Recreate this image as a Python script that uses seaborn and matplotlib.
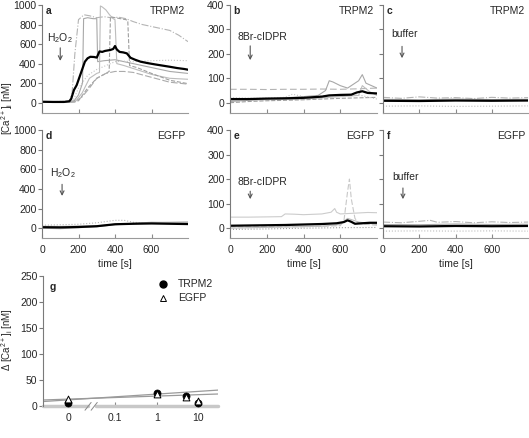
import numpy as np
import pandas as pd
import matplotlib
matplotlib.use("Agg")
import matplotlib.pyplot as plt
import seaborn as sns
from matplotlib.lines import Line2D

# ---------------- data ----------------
# Panel a (TRPM2, H2O2)
A_MEAN_T = [0, 60, 120, 150, 160, 175, 190, 205, 220, 235, 250, 265, 285, 300, 315, 330, 345, 360, 375, 390, 400, 410, 425, 445, 465, 485, 510, 540, 580, 620, 660, 700, 740, 780, 800]
A_MEAN_V = [10, 8, 8, 15, 40, 130, 180, 260, 340, 420, 455, 470, 468, 462, 525, 520, 530, 535, 540, 550, 580, 545, 520, 515, 505, 460, 440, 420, 405, 392, 380, 368, 355, 345, 338]
A_G1_T = [0, 150, 165, 180, 200, 230, 260, 300, 340, 380, 420, 460, 500, 550, 600, 650, 700, 750, 800]
A_G1_V = [10, 10, 100, 500, 850, 900, 890, 870, 880, 870, 875, 860, 830, 800, 780, 760, 740, 690, 625]
A_G2_T = [0, 170, 200, 222, 228, 250, 280, 300, 305, 340, 400, 450, 500, 600, 700, 800]
A_G2_V = [5, 5, 80, 200, 860, 870, 860, 860, 420, 430, 440, 420, 400, 360, 320, 300]
A_G3_T = [0, 180, 220, 260, 300, 315, 320, 330, 350, 370, 390, 400, 410, 450, 500, 600, 700, 800]
A_G3_V = [5, 5, 100, 250, 300, 310, 990, 980, 950, 900, 860, 850, 400, 380, 350, 290, 250, 240]
A_G4_T = [0, 200, 250, 300, 350, 368, 375, 400, 430, 460, 470, 480, 520, 600, 700, 800]
A_G4_V = [5, 20, 150, 250, 300, 320, 880, 870, 860, 850, 840, 380, 360, 300, 230, 195]
A_G5_T = [0, 170, 200, 250, 300, 350, 400, 450, 500, 600, 700, 800]
A_G5_V = [5, 20, 150, 280, 340, 380, 420, 425, 420, 430, 435, 430]
A_G6_T = [0, 180, 220, 260, 300, 350, 400, 450, 500, 600, 700, 800]
A_G6_V = [5, 10, 60, 150, 250, 300, 320, 320, 310, 260, 210, 190]

# Panel b (TRPM2, 8Br-cIDPR)
B_MEAN_T = [0, 100, 200, 300, 400, 500, 540, 600, 660, 690, 720, 750, 800]
B_MEAN_V = [15, 15, 17, 18, 20, 25, 30, 32, 33, 42, 47, 40, 38]
B_G1_T = [0, 100, 200, 300, 400, 500, 600, 700, 800]
B_G1_V = [55, 55, 54, 55, 55, 56, 55, 57, 60]
B_G2_T = [0, 200, 300, 400, 480, 520, 540, 560, 600, 640, 700, 720, 740, 800]
B_G2_V = [5, 15, 20, 25, 30, 50, 90, 85, 70, 60, 90, 115, 80, 60]
B_G3_T = [0, 200, 400, 600, 700, 720, 760, 800]
B_G3_V = [10, 12, 15, 25, 30, 70, 45, 30]
B_G4_T = [0, 100, 200, 300, 400, 500, 600, 700, 800]
B_G4_V = [0, 5, 8, 10, 12, 15, 18, 20, 22]
B_G5_T = [0, 150, 300, 340, 400, 500, 600, 700, 800]
B_G5_V = [20, 18, 22, 35, 25, 28, 30, 32, 15]

# Panel c (TRPM2, buffer)
C_MEAN_T = [0, 200, 400, 600, 800]
C_MEAN_V = [8, 7, 9, 8, 9]
C_G1_T = [0, 100, 200, 300, 400, 500, 600, 700, 800]
C_G1_V = [22, 18, 24, 19, 21, 17, 22, 19, 21]
C_G2_T = [0, 200, 400, 600, 800]
C_G2_V = [14, 12, 15, 13, 14]
C_G3_T = [0, 200, 400, 600, 800]
C_G3_V = [-14, -13, -15, -14, -13]

# Panel d (EGFP, H2O2)
D_MEAN_T = [0, 100, 200, 300, 350, 400, 500, 600, 700, 800]
D_MEAN_V = [10, 8, 12, 20, 30, 40, 45, 48, 45, 42]
D_G1_T = [0, 100, 200, 300, 400, 450, 500, 600, 700, 800]
D_G1_V = [30, 35, 40, 55, 80, 80, 60, 50, 55, 50]
D_G2_T = [0, 100, 200, 300, 400, 500, 600, 700, 800]
D_G2_V = [0, -5, 5, 15, 35, 50, 60, 58, 62]
D_G3_T = [0, 100, 200, 300, 400, 500, 600, 700, 800]
D_G3_V = [20, 18, 22, 25, 40, 45, 55, 60, 62]

# Panel e (EGFP, 8Br-cIDPR)
E_MEAN_T = [0, 100, 200, 300, 400, 500, 580, 620, 640, 660, 680, 720, 760, 800]
E_MEAN_V = [10, 11, 12, 13, 15, 17, 20, 25, 32, 26, 18, 20, 22, 22]
E_G1_T = [0, 100, 200, 280, 300, 350, 400, 500, 550, 570, 580, 600, 650, 700, 750, 800]
E_G1_V = [45, 45, 46, 47, 58, 57, 55, 58, 65, 80, 65, 58, 60, 62, 64, 63]
E_G2_T = [0, 200, 400, 500, 600, 620, 640, 650, 660, 680, 700, 750, 800]
E_G2_V = [5, 5, 6, 8, 10, 30, 150, 200, 120, 40, 20, 15, 12]
E_G3_T = [0, 300, 500, 600, 640, 660, 700, 800]
E_G3_V = [0, 5, 8, 15, 40, 35, 25, 15]
E_G4_T = [0, 200, 400, 600, 800]
E_G4_V = [-5, -3, 0, 2, 3]

# Panel f (EGFP, buffer)
F_MEAN_T = [0, 200, 400, 600, 800]
F_MEAN_V = [8, 7, 9, 8, 9]
F_G1_T = [0, 100, 200, 260, 300, 400, 500, 600, 700, 800]
F_G1_V = [25, 22, 28, 32, 24, 27, 22, 26, 23, 25]
F_G2_T = [0, 200, 400, 600, 800]
F_G2_V = [15, 14, 17, 15, 16]
F_G3_T = [0, 200, 400, 600, 800]
F_G3_V = [-12, -11, -12, -11, -12]

# Panel g (dose response)
G_CONC = [0, 1, 5, 10]
G_TRPM2 = [6, 25, 19, 6]
G_EGFP = [12, 22, 17, 10]
G_FIT_X = [0.00188, 29.5]
G_FIT1 = [8, 30]
G_FIT2 = [11, 22.5]
G_TICKS = [0, 0.1, 1, 10]
G_TICKLABELS = ["0", "0.1", "1", "10"]
ZERO_POS = 0.0075  # where "0" sits on the broken log axis

# ---------------- style ----------------
sns.set_style("ticks")
plt.rcParams["font.family"] = ["Liberation Sans", "DejaVu Sans"]
plt.rcParams["font.size"] = 7.5
plt.rcParams["mathtext.default"] = "regular"

W, H = 529, 438
fig = plt.figure(figsize=(W / 100, H / 100), dpi=100)

def fx(px):
    return px / W

def axbox(left, top, right, bottom):
    return [left / W, 1 - bottom / H, (right - left) / W, (bottom - top) / H]

SP = "#7a7a7a"
GREY = ["#b4b4b4", "#a8a8a8", "#bdbdbd", "#9f9f9f", "#c4c4c4", "#ababab"]
STY = ["-.", "-", "-", "--", ":", (0, (6, 2))]

def style_ax(ax, ylim, yticks, ylabels, xlabels):
    ax.set_xlim(0, 800)
    ax.set_ylim(*ylim)
    ax.set_xticks([0, 200, 400, 600])
    ax.set_yticks(yticks)
    for s in ["top", "right"]:
        ax.spines[s].set_visible(False)
    ax.spines["left"].set_color(SP)
    ax.spines["bottom"].set_color("#9a9a9a")
    ax.spines["left"].set_linewidth(0.8)
    ax.spines["bottom"].set_linewidth(0.8)
    ax.tick_params(axis="x", direction="in", length=3, color="#8a8a8a", labelsize=7.5, pad=5)
    ax.tick_params(axis="y", direction="out", length=3, color=SP, labelsize=7.5, pad=1)
    if not ylabels:
        ax.set_yticklabels([])
    if not xlabels:
        ax.set_xticklabels([])
    else:
        ax.set_xlabel("time [s]", fontsize=7.5, labelpad=3)
    ax.set_ylabel("")

def draw(ax, traces, mean):
    for i, (t, v) in enumerate(traces):
        sns.lineplot(x=t, y=v, ax=ax, color=GREY[i % len(GREY)], linestyle=STY[i % len(STY)], lw=0.8)
    sns.lineplot(x=mean[0], y=mean[1], ax=ax, color="black", lw=1.6)

def labels(ax, letter, name):
    ax.text(0.025, 0.94, letter, transform=ax.transAxes, fontsize=7.5, fontweight="bold", va="center")
    ax.text(0.98, 0.94, name, transform=ax.transAxes, fontsize=7.5, ha="right", va="center")

def arrow(ax, t, y0, y1, text, ty):
    ax.annotate("", xy=(t, y1), xytext=(t, y0),
                arrowprops=dict(arrowstyle="->", color="#555555", lw=0.8, mutation_scale=7))
    ax.text(t - 70, ty, text, fontsize=7.5, va="center", ha="left")

# Row 1
ax_a = fig.add_axes(axbox(42, 5, 188, 112.5))
draw(ax_a, [(A_G1_T, A_G1_V), (A_G2_T, A_G2_V), (A_G3_T, A_G3_V), (A_G4_T, A_G4_V),
            (A_G5_T, A_G5_V), (A_G6_T, A_G6_V)], (A_MEAN_T, A_MEAN_V))
style_ax(ax_a, (-100, 1000), [0, 200, 400, 600, 800, 1000], True, False)
labels(ax_a, "a", "TRPM2")
arrow(ax_a, 100, 590, 400, r"H$_2$O$_2$", 660)

ax_b = fig.add_axes(axbox(230, 5, 377, 112.5))
draw(ax_b, [(B_G1_T, B_G1_V), (B_G2_T, B_G2_V), (B_G3_T, B_G3_V), (B_G4_T, B_G4_V),
            (B_G5_T, B_G5_V)], (B_MEAN_T, B_MEAN_V))
ax_b.lines[0].set_linestyle((0, (6, 3)))
style_ax(ax_b, (-40, 400), [0, 100, 200, 300, 400], True, False)
labels(ax_b, "b", "TRPM2")
arrow(ax_b, 110, 244, 163, "8Br-cIDPR", 270)

ax_c = fig.add_axes(axbox(383, 5, 528, 112.5))
draw(ax_c, [(C_G1_T, C_G1_V), (C_G2_T, C_G2_V), (C_G3_T, C_G3_V)], (C_MEAN_T, C_MEAN_V))
ax_c.lines[2].set_linestyle(":")
style_ax(ax_c, (-40, 400), [0, 100, 200, 300, 400], False, False)
labels(ax_c, "c", "TRPM2")
arrow(ax_c, 105, 242, 171, "buffer", 283)
ax_c.texts[-1].set_x(45)

# Row 2
ax_d = fig.add_axes(axbox(42, 130, 188, 238))
draw(ax_d, [(D_G1_T, D_G1_V), (D_G2_T, D_G2_V), (D_G3_T, D_G3_V)], (D_MEAN_T, D_MEAN_V))
ax_d.lines[0].set_linestyle(":")
style_ax(ax_d, (-100, 1000), [0, 200, 400, 600, 800, 1000], True, True)
labels(ax_d, "d", "EGFP")
arrow(ax_d, 110, 475, 300, r"H$_2$O$_2$", 565)
ax_d.texts[-1].set_x(45)

ax_e = fig.add_axes(axbox(230, 130, 377, 238))
draw(ax_e, [(E_G1_T, E_G1_V), (E_G2_T, E_G2_V), (E_G3_T, E_G3_V), (E_G4_T, E_G4_V)], (E_MEAN_T, E_MEAN_V))
ax_e.lines[0].set_linestyle("-")
ax_e.lines[0].set_color("#cccccc")
ax_e.lines[1].set_linestyle((0, (5, 2)))
ax_e.lines[1].set_color("#c8c8c8")
ax_e.lines[3].set_linestyle(":")
style_ax(ax_e, (-40, 400), [0, 100, 200, 300, 400], True, True)
labels(ax_e, "e", "EGFP")
arrow(ax_e, 110, 162, 107, "8Br-cIDPR", 190)
ax_e.texts[-1].set_x(40)

ax_f = fig.add_axes(axbox(383, 130, 528, 238))
draw(ax_f, [(F_G1_T, F_G1_V), (F_G2_T, F_G2_V), (F_G3_T, F_G3_V)], (F_MEAN_T, F_MEAN_V))
ax_f.lines[2].set_linestyle(":")
style_ax(ax_f, (-40, 400), [0, 100, 200, 300, 400], False, True)
labels(ax_f, "f", "EGFP")
arrow(ax_f, 110, 175, 107, "buffer", 208)
ax_f.texts[-1].set_x(50)

fig.text(fx(7), 1 - 108 / H, r"[Ca$^{2+}$]$_i$ [nM]", rotation=90, ha="center", va="center", fontsize=7)

# Panel g
ax_g = fig.add_axes(axbox(43, 275.7, 218, 405.7))
ax_g.set_xscale("log")
pos = [ZERO_POS if c == 0 else c for c in G_CONC]
df_g = pd.DataFrame({"x": pos * 2, "y": G_TRPM2 + G_EGFP,
                     "group": ["TRPM2"] * len(pos) + ["EGFP"] * len(pos)})
sns.lineplot(x=G_FIT_X, y=G_FIT1, ax=ax_g, color="#9a9a9a", lw=0.9)
sns.lineplot(x=G_FIT_X, y=G_FIT2, ax=ax_g, color="#9a9a9a", lw=0.9)
sns.scatterplot(data=df_g[df_g.group == "TRPM2"], x="x", y="y", ax=ax_g, marker="o",
                color="black", s=26, edgecolor="black", linewidth=0.5, zorder=5, clip_on=False)
sns.scatterplot(data=df_g[df_g.group == "EGFP"], x="x", y="y", ax=ax_g, marker="^",
                facecolor="white", edgecolor="black", s=24, linewidth=0.7, zorder=6, clip_on=False)
ax_g.set_xlim(G_FIT_X[0], G_FIT_X[1])
ax_g.set_ylim(0, 250)
ax_g.set_yticks([0, 50, 100, 150, 200, 250])
ax_g.set_xticks([ZERO_POS if v == 0 else v for v in G_TICKS])
ax_g.set_xticklabels(G_TICKLABELS)
ax_g.xaxis.set_minor_locator(matplotlib.ticker.NullLocator())
for s in ["top", "right", "bottom"]:
    ax_g.spines[s].set_visible(False)
ax_g.spines["left"].set_color(SP)
ax_g.spines["left"].set_linewidth(0.8)
ax_g.tick_params(axis="x", direction="in", length=3, color="#8a8a8a", labelsize=7.5, pad=5)
ax_g.tick_params(axis="y", direction="out", length=3, color=SP, labelsize=7.5, pad=1)
ax_g.set_xlabel("")
ax_g.set_ylabel("")
# broken bottom axis
ax_g.plot([0, 0.255], [0, 0], transform=ax_g.transAxes, color="#c8c8c8", lw=2.5, clip_on=False, zorder=1)
ax_g.plot([0.3, 1.0], [0, 0], transform=ax_g.transAxes, color="#c8c8c8", lw=2.5, clip_on=False, zorder=1)
for dx in (0.24, 0.275):
    ax_g.plot([dx, dx + 0.035], [-0.035, 0.025], transform=ax_g.transAxes, color="#888888", lw=0.7, clip_on=False)
ax_g.text(0.035, 0.915, "g", transform=ax_g.transAxes, fontsize=7.5, fontweight="bold", va="center")
handles = [Line2D([], [], marker="o", color="black", linestyle="none", markersize=5),
           Line2D([], [], marker="^", markerfacecolor="white", markeredgecolor="black",
                  linestyle="none", markersize=5, markeredgewidth=0.7)]
ax_g.legend(handles, ["TRPM2", "EGFP"], loc="upper left", bbox_to_anchor=(0.6, 1.045),
            frameon=False, fontsize=7.5, handlelength=1.0, handletextpad=1.0, labelspacing=0.4)
fig.text(fx(7), 1 - 340 / H, r"$\Delta$ [Ca$^{2+}$]$_i$ [nM]", rotation=90, ha="center", va="center", fontsize=7)

fig.savefig("out.png", dpi=100)
